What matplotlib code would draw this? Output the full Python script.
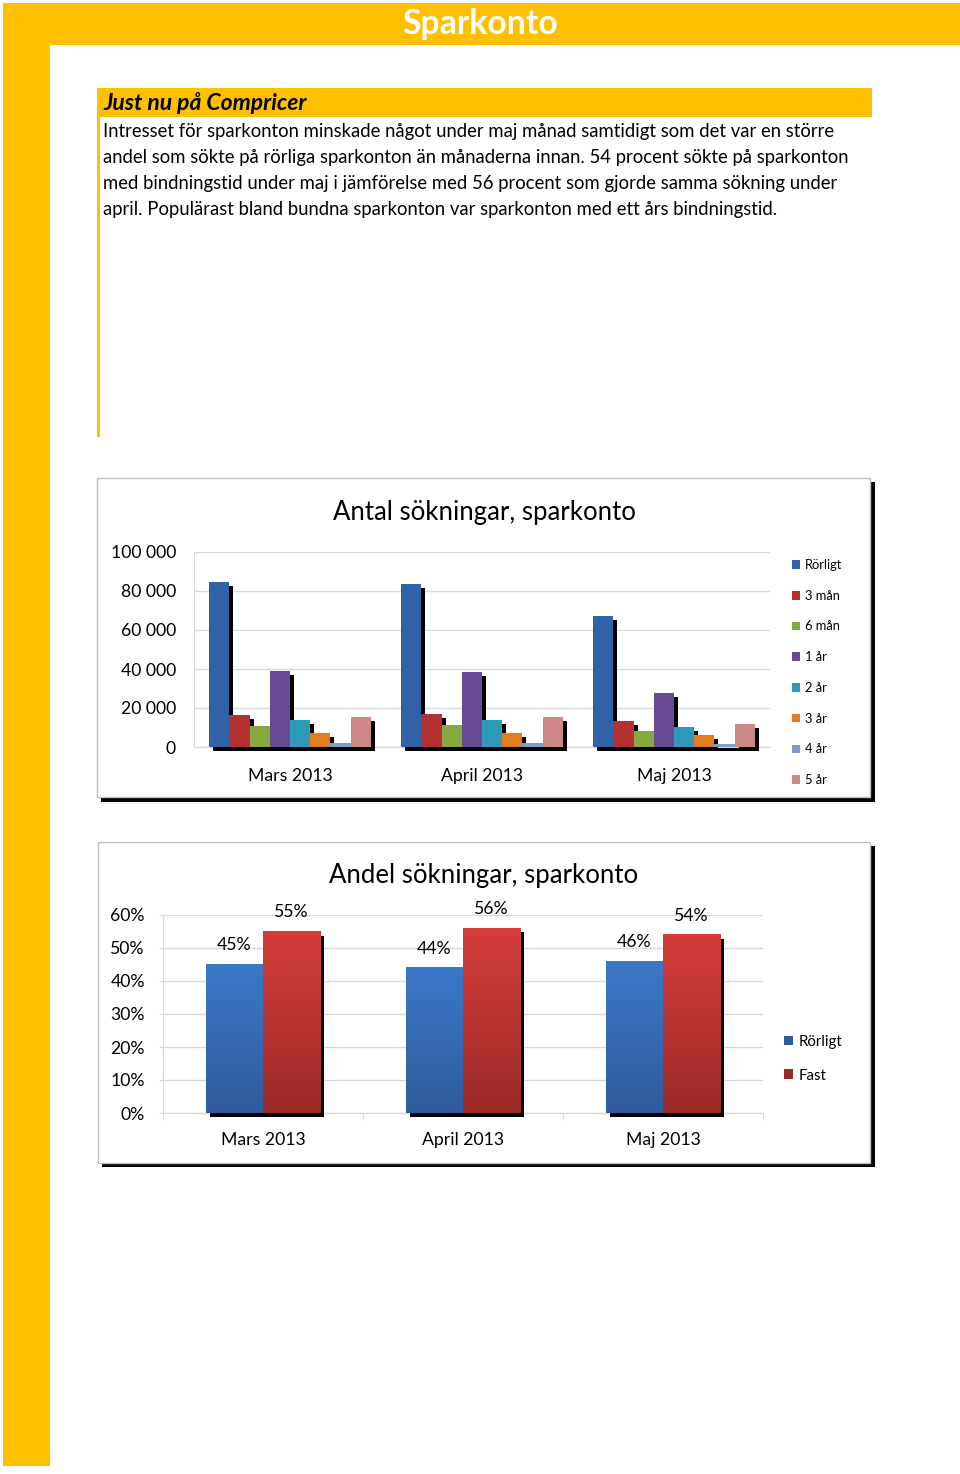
import matplotlib
matplotlib.use("Agg")
import matplotlib.pyplot as plt
import numpy as np
from matplotlib.patches import Rectangle
from matplotlib import patheffects as pe
from matplotlib.colors import LinearSegmentedColormap

plt.rcParams['font.family'] = ['Lato', 'DejaVu Sans']

# ---------------- data ----------------
page_title = "Sparkonto"
box_title = "Just nu på Compricer"
body_lines = [
    "Intresset för sparkonton minskade något under maj månad samtidigt som det var en större",
    "andel som sökte på rörliga sparkonton än månaderna innan. 54 procent sökte på sparkonton",
    "med bindningstid under maj i jämförelse med 56 procent som gjorde samma sökning under",
    "april. Populärast bland bundna sparkonton var sparkonton med ett års bindningstid.",
]

months = ["Mars 2013", "April 2013", "Maj 2013"]

chart1_title = "Antal sökningar, sparkonto"
series1 = ["Rörligt", "3 mån", "6 mån", "1 år", "2 år", "3 år", "4 år", "5 år"]
values1 = {
    "Rörligt": [84600, 83700, 67400],
    "3 mån":   [16500, 17000, 13200],
    "6 mån":   [11000, 11500, 8200],
    "1 år":    [38900, 38300, 27500],
    "2 år":    [13700, 13700, 10500],
    "3 år":    [7400, 7400, 6000],
    "4 år":    [2100, 2100, 1500],
    "5 år":    [15400, 15400, 11700],
}
colors1 = ["#2F62A8", "#B53030", "#85A83F", "#674A93", "#2C9AB8", "#E27E1F", "#7F9BCB", "#CE8886"]
yticks1 = [0, 20000, 40000, 60000, 80000, 100000]
yticklabels1 = ["0", "20 000", "40 000", "60 000", "80 000", "100 000"]

chart2_title = "Andel sökningar, sparkonto"
series2 = ["Rörligt", "Fast"]
values2 = {
    "Rörligt": [45, 44, 46],
    "Fast":    [55, 56, 54],
}
colors2_top = ["#3B78C8", "#D43D39"]
colors2_bot = ["#2E5B9C", "#9B2A27"]
yticks2 = [0, 10, 20, 30, 40, 50, 60]
yticklabels2 = ["0%", "10%", "20%", "30%", "40%", "50%", "60%"]

# ---------------- layout helpers ----------------
W, H = 960, 1474
fig = plt.figure(figsize=(W / 100, H / 100), dpi=100)
fig.patch.set_facecolor("white")

bg = fig.add_axes([0, 0, 1, 1])
bg.set_xlim(0, W)
bg.set_ylim(H, 0)
bg.axis("off")

def rect(x0, y0, x1, y1, **kw):
    bg.add_patch(Rectangle((x0, y0), x1 - x0, y1 - y0, **kw))

def px_axes(x0, y0, x1, y1):
    return fig.add_axes([x0 / W, 1 - y1 / H, (x1 - x0) / W, (y1 - y0) / H])

YEL = "#FFC000"
rect(3, 3, 960, 45, facecolor=YEL, edgecolor="none")
rect(3, 3, 50, 1466, facecolor=YEL, edgecolor="none")
rect(100, 88, 872, 117, facecolor=YEL, edgecolor="none")
rect(97, 88, 100, 437, facecolor=YEL, edgecolor="none")

bg.text(480, 24, page_title, color="white", fontsize=24.3, fontweight="bold",
        ha="center", va="center")
bg.text(103, 103, box_title, fontsize=16.5, fontweight="bold", fontstyle="italic",
        ha="left", va="center", color="black")
for i, line in enumerate(body_lines):
    bg.text(103, 131 + 26 * i, line, fontsize=13.35, ha="left", va="center", color="black")

# chart boxes with shadow
rect(101, 482, 875, 802, facecolor="black", edgecolor="none")
rect(97, 478, 870, 797, facecolor="white", edgecolor="#BFBFBF", lw=1)
rect(102, 846, 875, 1167, facecolor="black", edgecolor="none")
rect(98, 842, 870, 1163, facecolor="white", edgecolor="#BFBFBF", lw=1)

shadow = [pe.SimplePatchShadow(offset=(2.9, -2.9), shadow_rgbFace="black", alpha=1.0), pe.Normal()]

# ---------------- chart 1 ----------------
ax1 = px_axes(194, 552, 770, 747)
x = np.arange(len(months))
n1 = len(series1)
w1 = 1 / (n1 + 1.5)
for i, s in enumerate(series1):
    bars = ax1.bar(x + (i - (n1 - 1) / 2) * w1, values1[s], width=w1, color=colors1[i],
                   label=s, clip_on=False, zorder=3)
    for b in bars:
        b.set_path_effects(shadow)
ax1.set_xlim(-0.5, len(months) - 0.5)
ax1.set_ylim(0, 100000)
ax1.set_yticks(yticks1)
ax1.set_yticklabels(yticklabels1)
ax1.set_xticks(x)
ax1.set_xticklabels(months)
ax1.tick_params(axis="y", length=0, pad=13, labelsize=12.7)
ax1.tick_params(axis="x", length=0, pad=15, labelsize=12.7)
ax1.yaxis.grid(True, color="#D9D9D9", lw=1)
ax1.set_axisbelow(True)
for sp in ["top", "right"]:
    ax1.spines[sp].set_visible(False)
ax1.spines["left"].set_color("#D9D9D9")
ax1.spines["bottom"].set_color("#D9D9D9")
ax1.set_facecolor("none")
bg.text(484, 512, chart1_title, fontsize=18.5, ha="center", va="center")
leg1 = ax1.legend(loc="upper left", bbox_to_anchor=(792, 559), bbox_transform=bg.transData,
                  frameon=False, fontsize=9.3, handlelength=0.65, handleheight=0.65,
                  handletextpad=0.35, labelspacing=1.45, borderpad=0, borderaxespad=0)
for h in leg1.legend_handles:
    h.set_path_effects([])

# ---------------- chart 2 ----------------
ax2 = px_axes(163, 915, 763, 1113)
n2 = len(series2)
w2 = 1 / (n2 + 1.5)
for i, s in enumerate(series2):
    xs = x + (i - (n2 - 1) / 2) * w2
    bars = ax2.bar(xs, values2[s], width=w2, color=colors2_bot[i], label=s,
                   clip_on=False, zorder=3)
    cmap = LinearSegmentedColormap.from_list("g%d" % i, [colors2_bot[i], colors2_top[i]])
    grad = np.linspace(0, 1, 256).reshape(-1, 1)
    for b, xc, v in zip(bars, xs, values2[s]):
        b.set_path_effects(shadow)
        ax2.imshow(grad, extent=[xc - w2 / 2, xc + w2 / 2, 0, v], origin="lower",
                   cmap=cmap, aspect="auto", zorder=3.5, interpolation="bilinear")
        ax2.annotate(f"{v}%", (xc, v), xytext=(0, 19), textcoords="offset pixels",
                     ha="center", va="center", fontsize=12.7)
ax2.set_xlim(-0.5, len(months) - 0.5)
ax2.set_ylim(0, 60)
ax2.set_yticks(yticks2)
ax2.set_yticklabels(yticklabels2)
ax2.set_xticks(x)
ax2.set_xticklabels(months)
ax2.set_xticks(np.arange(len(months) + 1) - 0.5, minor=True)
ax2.tick_params(axis="y", length=3, color="#D9D9D9", pad=10, labelsize=12.7)
ax2.tick_params(axis="x", which="major", length=0, pad=13.5, labelsize=12.7)
ax2.tick_params(axis="x", which="minor", length=5, color="#D9D9D9")
ax2.yaxis.grid(True, color="#D9D9D9", lw=1)
ax2.set_axisbelow(True)
for sp in ["top", "right"]:
    ax2.spines[sp].set_visible(False)
ax2.spines["left"].set_color("#D9D9D9")
ax2.spines["bottom"].set_color("#D9D9D9")
ax2.set_facecolor("none")
bg.text(484, 875, chart2_title, fontsize=18.5, ha="center", va="center")
h2, l2 = ax2.get_legend_handles_labels()
leg2 = ax2.legend(h2, l2, loc="upper left", bbox_to_anchor=(784, 1035), bbox_transform=bg.transData,
                  frameon=False, fontsize=10.8, handlelength=0.6, handleheight=0.6,
                  handletextpad=0.35, labelspacing=1.3, borderpad=0, borderaxespad=0)
for h in leg2.legend_handles:
    h.set_path_effects([])

fig.savefig("out.png", dpi=100)
